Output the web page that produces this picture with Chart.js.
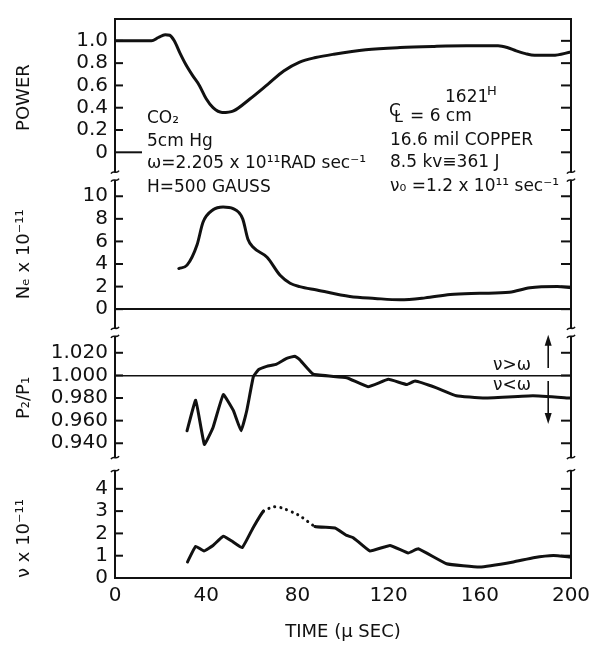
<!DOCTYPE html>
<html><head><meta charset="utf-8">
<script src="https://cdn.jsdelivr.net/npm/chart.js@4"></script>
<style>html,body{margin:0;padding:0;background:#fff}canvas{display:block}</style>
</head><body>
<canvas id="c" width="597" height="645"></canvas>
<script>
// ---- axis ticks ----
const timeTicks = [0, 40, 80, 120, 160, 200];
const timeLabels = ['0', '40', '80', '120', '160', '200'];
const powerTicks = [0, 0.2, 0.4, 0.6, 0.8, 1.0];
const powerLabels = ['0', '0.2', '0.4', '0.6', '0.8', '1.0'];
const neTicks = [0, 2, 4, 6, 8, 10];
const neLabels = ['0', '2', '4', '6', '8', '10'];
const ratioTicks = [0.94, 0.96, 0.98, 1.0, 1.02];
const ratioLabels = ['0.940', '0.960', '0.980', '1.000', '1.020'];
const nuTicks = [0, 1, 2, 3, 4];
const nuLabels = ['0', '1', '2', '3', '4'];

// ---- series ----
const powerT = [0, 16, 19, 22, 24, 26, 28.5, 31, 34, 37, 40, 43, 47, 52, 59, 67, 74, 81, 88, 96, 110, 125, 140, 154, 168, 172, 176, 180, 184, 192, 200];
const powerV = [1.0, 1.0, 1.03, 1.055, 1.05, 1.0, 0.89, 0.79, 0.69, 0.6, 0.48, 0.40, 0.357, 0.372, 0.476, 0.61, 0.73, 0.81, 0.85, 0.88, 0.92, 0.94, 0.95, 0.955, 0.955, 0.94, 0.91, 0.885, 0.87, 0.87, 0.9];

const neT = [28, 31.6, 36, 38.6, 43, 47.4, 51.8, 56, 58.3, 60.5, 66.7, 72.4, 76.8, 81, 88.5, 103, 114, 125, 136, 147, 160, 173, 182, 194, 200];
const neV = [3.6, 3.9, 5.7, 7.7, 8.8, 9.05, 8.9, 8.0, 6.2, 5.5, 4.6, 3.0, 2.3, 2.0, 1.7, 1.12, 0.95, 0.83, 1.0, 1.3, 1.4, 1.5, 1.9, 2.0, 1.9];

const ratioT = [31.6, 35.4, 39.2, 43, 47.5, 51.9, 55.3, 57.8, 60.7, 62.9, 66.5, 70.9, 75.3, 78.9, 81, 87, 101.6, 111, 119.9, 127.9, 131.6, 141, 149.7, 161.4, 183.3, 199.6];
const ratioV = [0.951, 0.978, 0.939, 0.954, 0.983, 0.969, 0.951, 0.969, 0.999, 1.005, 1.008, 1.010, 1.015, 1.017, 1.014, 1.001, 0.998, 0.990, 0.9965, 0.992, 0.995, 0.989, 0.982, 0.980, 0.982, 0.980];

const nuT = [31.8, 35.4, 39, 43, 47.5, 51.9, 55.8, 60.7, 65.1, 69.4, 73, 77.9, 81, 87.7, 96.5, 101.6, 104.5, 111.8, 120.6, 128.6, 133, 145.4, 160, 174.7, 183.5, 192.3, 199.6];
const nuV = [0.72, 1.42, 1.21, 1.46, 1.87, 1.61, 1.36, 2.28, 3.0, 3.2, 3.15, 2.95, 2.8, 2.31, 2.24, 1.91, 1.81, 1.21, 1.46, 1.12, 1.31, 0.64, 0.49, 0.72, 0.91, 1.01, 0.94];
const nuDottedRange = [65.1, 87.7];

const INK = '#111';
const FONT = '"DejaVu Sans"';
Chart.defaults.font.family = FONT;
Chart.defaults.color = INK;

const pts = (t, v) => t.map((x, i) => ({ x, y: v[i] }));

function yScale(ticks, labels, min, max, weight, stackWeight, title, titleAlign) {
  return {
    type: 'linear', position: 'left', stack: 'panels', stackWeight, weight,
    min, max,
    afterBuildTicks: s => { s.ticks = ticks.map(v => ({ value: v })); },
    afterFit: s => { s.width = 115; },
    ticks: { callback: (v, i) => labels[i], padding: 7, font: { size: 20 }, color: INK, autoSkip: false },
    grid: { display: true, drawTicks: false, color: 'transparent', lineWidth: 0 },
    border: { display: false },
    title: { display: true, text: title, font: { size: 18 }, padding: { top: 14, bottom: 0 }, align: titleAlign || 'center', color: INK }
  };
}

const sPow = yScale(powerTicks, powerLabels, -0.214, 1.196, 4, 158, 'POWER');
const sNe = yScale(neTicks, neLabels, -2.05, 11.78, 3, 157, 'Nₑ x 10⁻¹¹');
sNe.grid = { drawTicks: false, color: c => (c.tick && c.tick.value === 0) ? INK : 'transparent', lineWidth: 2 };
const sP = yScale(ratioTicks, ratioLabels, 0.922, 1.0381, 2, 132, 'P₂/P₁');
sP.grid = { drawTicks: false, color: c => (c.tick && Math.abs(c.tick.value - 1) < 1e-9) ? INK : 'transparent', lineWidth: 1.6 };
const sNu = yScale(nuTicks, nuLabels, 0, 5.13, 1, 115, 'ν x 10⁻¹¹', 'start');

function line(ctx, x0, y0, x1, y1) { ctx.beginPath(); ctx.moveTo(x0, y0); ctx.lineTo(x1, y1); ctx.stroke(); }
function squiggle(ctx, x, y) {
  ctx.beginPath(); ctx.moveTo(x - 4, y + 1.5);
  ctx.bezierCurveTo(x - 1.5, y - 2.5, x + 1.5, y + 2.5, x + 4, y - 1.5); ctx.stroke();
}

const decor = {
  id: 'decor',
  afterDraw(chart) {
    const ctx = chart.ctx, ca = chart.chartArea;
    const L = ca.left, R = ca.right;
    ctx.save();
    ctx.strokeStyle = INK; ctx.fillStyle = INK;
    ctx.lineWidth = 2;
    line(ctx, L - 1, ca.top, R + 1, ca.top);
    const panels = [
      { id: 'yPow', gTop: 0, gBot: 4, ticks: powerTicks },
      { id: 'yNe', gTop: 4, gBot: 4, ticks: neTicks },
      { id: 'yP', gTop: 4, gBot: 6, ticks: ratioTicks },
      { id: 'yNu', gTop: 7, gBot: 0, ticks: nuTicks }
    ];
    panels.forEach(p => {
      const s = chart.scales[p.id];
      const y0 = s.top + p.gTop, y1 = s.bottom - p.gBot;
      [L, R].forEach(x => {
        ctx.lineWidth = 2;
        line(ctx, x, y0, x, y1);
        ctx.lineWidth = 1.6;
        if (p.gTop) squiggle(ctx, x, y0);
        if (p.gBot) squiggle(ctx, x, y1);
      });
      ctx.lineWidth = 2;
      p.ticks.forEach(v => {
        const y = s.getPixelForValue(v);
        const len = (p.id === 'yPow' && v === 0) ? 27 : 8;
        line(ctx, L, y, L + len, y);
        line(ctx, R - 10, y, R, y);
      });
    });

    // arrows in ratio panel
    const ax = chart.scales.x.getPixelForValue(190);
    const sr = chart.scales.yP;
    const uA = sr.getPixelForValue(1.0065), uB = sr.getPixelForValue(1.036);
    const dA = sr.getPixelForValue(0.995), dB = sr.getPixelForValue(0.957);
    ctx.lineWidth = 1.6;
    line(ctx, ax, uA, ax, uB + 8);
    ctx.beginPath(); ctx.moveTo(ax, uB); ctx.lineTo(ax - 3.5, uB + 11); ctx.lineTo(ax + 3.5, uB + 11); ctx.closePath(); ctx.fill();
    line(ctx, ax, dA, ax, dB - 8);
    ctx.beginPath(); ctx.moveTo(ax, dB); ctx.lineTo(ax - 3.5, dB - 11); ctx.lineTo(ax + 3.5, dB - 11); ctx.closePath(); ctx.fill();

    // annotations
    ctx.textAlign = 'left'; ctx.textBaseline = 'alphabetic';
    ctx.font = '17px ' + FONT;
    ctx.fillText('CO₂', 147, 123);
    ctx.fillText('5cm Hg', 147, 146);
    ctx.fillText('ω=2.205 x 10¹¹RAD sec⁻¹', 147, 168);
    ctx.fillText('H=500 GAUSS', 147, 192);
    ctx.fillText('1621', 445, 102);
    ctx.font = '13px ' + FONT;
    ctx.fillText('H', 487, 95);
    // centre-line symbol drawn as overlapping C and L
    ctx.font = '17px ' + FONT;
    ctx.fillText('C', 389, 116);
    ctx.font = '16px ' + FONT;
    ctx.fillText('L', 394, 122);
    ctx.font = '17px ' + FONT;
    ctx.fillText('= 6 cm', 410, 121);
    ctx.fillText('16.6 mil COPPER', 390, 145);
    ctx.fillText('8.5 kv≡361 J', 390, 167);
    ctx.fillText('ν₀ =1.2 x 10¹¹ sec⁻¹', 390, 191);
    ctx.fillText('ν>ω', 493, 370);
    ctx.fillText('ν<ω', 493, 390);
    ctx.restore();
  }
};

const lineDs = (data, yAxisID, extra) => Object.assign({
  data, yAxisID, xAxisID: 'x', borderColor: INK, borderWidth: 3, pointRadius: 0,
  fill: false, borderCapStyle: 'round', borderJoinStyle: 'round'
}, extra || {});

new Chart(document.getElementById('c'), {
  type: 'line',
  data: {
    datasets: [
      lineDs(pts(powerT, powerV), 'yPow', { cubicInterpolationMode: 'monotone' }),
      lineDs(pts(neT, neV), 'yNe', { cubicInterpolationMode: 'monotone' }),
      lineDs(pts(ratioT, ratioV), 'yP', { tension: 0.1 }),
      lineDs(pts(nuT, nuV), 'yNu', {
        tension: 0.1,
        segment: {
          borderDash: c => (c.p0.parsed.x >= nuDottedRange[0] && c.p1.parsed.x <= nuDottedRange[1]) ? [0.1, 6] : undefined
        }
      })
    ]
  },
  options: {
    responsive: false, animation: false,
    layout: { padding: { top: 16, right: 26, left: 0, bottom: 0 } },
    plugins: { legend: { display: false }, tooltip: { enabled: false } },
    scales: {
      x: {
        type: 'linear', position: 'bottom', min: 0, max: 200,
        afterBuildTicks: s => { s.ticks = timeTicks.map(v => ({ value: v })); },
        afterFit: s => { s.height = 67; },
        ticks: { callback: (v, i) => timeLabels[i], padding: 6, font: { size: 20 }, color: INK, maxRotation: 0, autoSkip: false },
        grid: { display: false, drawTicks: false },
        border: { display: true, color: INK, width: 2 },
        title: { display: true, text: 'TIME (μ SEC)', font: { size: 18 }, padding: { top: 0, bottom: 2 }, color: INK }
      },
      yPow: sPow, yNe: sNe, yP: sP, yNu: sNu
    }
  },
  plugins: [decor]
});
</script>
</body></html>
